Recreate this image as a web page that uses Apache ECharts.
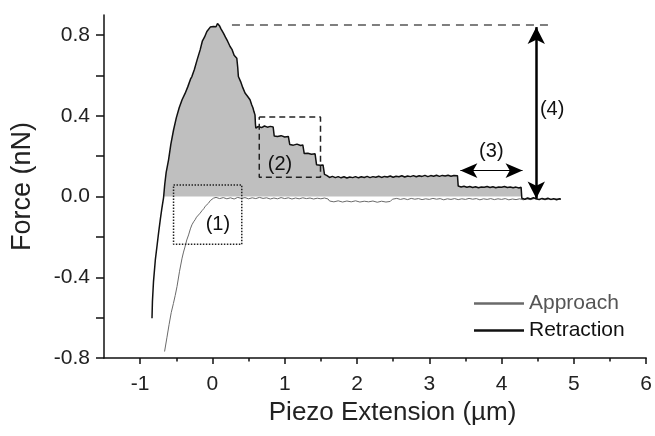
<!DOCTYPE html>
<html>
<head>
<meta charset="utf-8">
<script src="https://cdn.jsdelivr.net/npm/echarts@6/dist/echarts.min.js"></script>
<style>
html,body{margin:0;padding:0;background:#fff}
#chart{width:655px;height:436px}
</style>
</head>
<body>
<div id="chart"></div>
<script>
// force curves: [piezo extension (um), force (nN)]
var approach = [
    [-0.662,-0.768],[-0.63,-0.70],[-0.60,-0.635],[-0.57,-0.575],[-0.54,-0.53],[-0.515,-0.49],[-0.49,-0.446],
    [-0.455,-0.37],[-0.42,-0.305],[-0.40,-0.275],[-0.38,-0.25],[-0.355,-0.215],[-0.33,-0.19],[-0.305,-0.16],
    [-0.284,-0.14],[-0.26,-0.125],[-0.24,-0.115],[-0.22,-0.102],[-0.20,-0.095],[-0.17,-0.082],[-0.145,-0.07],
    [-0.12,-0.06],[-0.10,-0.048],[-0.08,-0.04],[-0.055,-0.033],[-0.03,-0.02],[-0.01,-0.012],[0.014,-0.008],
    [0.05,-0.004],[0.10,-0.010],[0.15,-0.005],[0.20,-0.011],[0.25,-0.006],[0.30,-0.012],[0.35,-0.004],
    [0.40,-0.009],[0.45,-0.005],[0.50,-0.011],[0.55,-0.006],[0.60,-0.010],[0.65,-0.004],[0.70,-0.009],
    [0.75,-0.006],[0.80,-0.012],[0.85,-0.007],[0.90,-0.011],[0.95,-0.005],[1.00,-0.010],[1.05,-0.006],
    [1.10,-0.012],[1.15,-0.007],[1.20,-0.011],[1.25,-0.006],[1.30,-0.010],[1.35,-0.007],[1.40,-0.012],
    [1.45,-0.008],[1.50,-0.011],[1.55,-0.007],[1.60,-0.012],[1.62,-0.022],[1.68,-0.026],[1.74,-0.021],
    [1.80,-0.027],[1.86,-0.022],[1.92,-0.026],[1.98,-0.021],[2.04,-0.027],[2.10,-0.023],[2.16,-0.026],
    [2.22,-0.022],[2.28,-0.028],[2.34,-0.023],[2.40,-0.027],[2.46,-0.024],[2.49,-0.013],[2.55,-0.009],
    [2.60,-0.014],[2.65,-0.010],[2.70,-0.015],[2.75,-0.009],[2.80,-0.013],[2.85,-0.010],[2.90,-0.015],
    [2.95,-0.011],[3.00,-0.014],[3.05,-0.009],[3.10,-0.013],[3.15,-0.010],[3.20,-0.016],[3.25,-0.011],
    [3.30,-0.014],[3.35,-0.010],[3.40,-0.015],[3.45,-0.011],[3.50,-0.014],[3.55,-0.009],[3.60,-0.013],
    [3.65,-0.010],[3.70,-0.016],[3.75,-0.011],[3.80,-0.014],[3.85,-0.010],[3.90,-0.015],[3.95,-0.011],
    [4.00,-0.014],[4.05,-0.010],[4.10,-0.016],[4.15,-0.012],[4.20,-0.015],[4.25,-0.011],[4.30,-0.016],
    [4.35,-0.012],[4.40,-0.015],[4.45,-0.010],[4.50,-0.014],[4.55,-0.011],[4.60,-0.016],[4.65,-0.012],
    [4.70,-0.015],[4.75,-0.011],[4.80,-0.014],[4.82,-0.012]
];
var retraction = [
    [-0.836,-0.603],[-0.83,-0.52],[-0.815,-0.42],[-0.79,-0.314],[-0.765,-0.24],[-0.745,-0.18],[-0.72,-0.11],
    [-0.70,-0.06],[-0.676,-0.005],[-0.66,0.06],[-0.64,0.12],[-0.607,0.182],[-0.575,0.26],[-0.538,0.33],
    [-0.50,0.39],[-0.46,0.44],[-0.42,0.48],[-0.38,0.51],[-0.34,0.545],[-0.30,0.585],[-0.284,0.595],
    [-0.25,0.63],[-0.21,0.68],[-0.17,0.727],[-0.14,0.77],[-0.11,0.79],[-0.077,0.818],[-0.05,0.825],
    [-0.03,0.84],[-0.01,0.835],[0.014,0.843],[0.03,0.85],[0.05,0.842],[0.07,0.858],[0.083,0.86],
    [0.10,0.845],[0.12,0.83],[0.152,0.81],[0.18,0.79],[0.21,0.77],[0.244,0.744],[0.27,0.73],[0.30,0.70],
    [0.337,0.686],[0.35,0.64],[0.359,0.595],[0.39,0.57],[0.42,0.54],[0.451,0.513],[0.48,0.50],[0.52,0.48],
    [0.543,0.455],[0.56,0.44],[0.575,0.42],[0.589,0.405],[0.595,0.36],[0.60,0.339],[0.63,0.347],
    [0.68,0.342],[0.72,0.35],[0.76,0.344],[0.80,0.348],[0.84,0.345],[0.855,0.30],[0.90,0.298],[0.95,0.302],
    [1.00,0.295],[1.05,0.298],[1.07,0.258],[1.12,0.255],[1.17,0.26],[1.22,0.253],[1.25,0.256],[1.27,0.213],
    [1.32,0.215],[1.37,0.21],[1.42,0.212],[1.44,0.158],[1.49,0.155],[1.53,0.157],[1.55,0.11],[1.58,0.105],
    [1.62,0.095],[1.66,0.100],[1.70,0.094],[1.74,0.099],[1.78,0.093],[1.82,0.098],[1.86,0.092],[1.90,0.097],
    [1.94,0.094],[1.98,0.099],[2.02,0.093],[2.06,0.098],[2.10,0.095],[2.14,0.100],[2.18,0.094],[2.22,0.099],
    [2.26,0.096],[2.30,0.101],[2.34,0.095],[2.38,0.100],[2.42,0.097],[2.46,0.102],[2.50,0.096],[2.54,0.101],
    [2.58,0.098],[2.62,0.103],[2.66,0.097],[2.70,0.102],[2.74,0.099],[2.78,0.104],[2.82,0.098],[2.86,0.103],
    [2.90,0.100],[2.94,0.105],[2.98,0.099],[3.02,0.104],[3.06,0.101],[3.10,0.106],[3.14,0.100],[3.18,0.105],
    [3.22,0.102],[3.26,0.106],[3.30,0.101],[3.34,0.105],[3.39,0.103],[3.40,0.052],[3.44,0.048],[3.48,0.051],
    [3.52,0.046],[3.56,0.050],[3.60,0.045],[3.64,0.049],[3.68,0.044],[3.72,0.048],[3.76,0.046],[3.80,0.050],
    [3.84,0.045],[3.88,0.049],[3.92,0.044],[3.96,0.048],[4.00,0.046],[4.04,0.050],[4.08,0.045],[4.12,0.048],
    [4.16,0.044],[4.20,0.047],[4.24,0.043],[4.27,0.046],[4.28,-0.008],[4.32,-0.013],[4.36,-0.007],
    [4.40,-0.012],[4.44,-0.006],[4.48,-0.011],[4.52,-0.015],[4.56,-0.009],[4.60,-0.013],[4.64,-0.008],
    [4.68,-0.014],[4.72,-0.010],[4.76,-0.016],[4.80,-0.011],[4.82,-0.013]
];
var xTicks = [-1,0,1,2,3,4,5,6];
var xMinorTicks = [-0.5,0.5,1.5,2.5,3.5,4.5,5.5];
var yTicks = [-0.8,-0.6,-0.4,-0.2,0,0.2,0.4,0.6,0.8];
var yLabels = [-0.8,-0.4,0,0.4,0.8];
var notes = ['(1)','(2)','(3)','(4)'];

var font = "'Liberation Sans', Arial, sans-serif";

// grey area under the retraction curve, above zero
var fillData = retraction.filter(function(p){ return p[0] >= -0.68 && p[0] <= 4.275; })
    .map(function(p){ return [p[0], Math.max(0, p[1])]; });

var chart = echarts.init(document.getElementById('chart'));
chart.setOption({
    animation:false,
    textStyle:{fontFamily:font},
    grid:{left:104, right:7.5, top:15, bottom:78},
    legend:{
        orient:'vertical',
        left:474,
        top:293,
        padding:0,
        itemWidth:50,
        itemHeight:2.5,
        itemGap:6,
        icon:'rect',
        textStyle:{fontSize:21, lineHeight:21, fontFamily:font},
        data:[
            {name:'Approach', textStyle:{color:'#555'}},
            {name:'Retraction', textStyle:{color:'#111'}}
        ]
    },
    xAxis:[{
        type:'value',
        min:-1.5,
        max:6,
        name:'Piezo Extension (µm)',
        nameLocation:'middle',
        nameGap:42,
        nameTextStyle:{fontSize:26, color:'#222', padding:[0,0,0,35]},
        axisLine:{onZero:false, lineStyle:{color:'#111', width:1.5}},
        axisTick:{customValues:xTicks, length:6, lineStyle:{color:'#111', width:1.5}},
        axisLabel:{customValues:xTicks, fontSize:21, color:'#222', margin:16},
        splitLine:{show:false}
    },{
        type:'value',
        min:-1.5,
        max:6,
        position:'bottom',
        axisLine:{show:false, onZero:false},
        axisTick:{customValues:xMinorTicks, length:3.5, lineStyle:{color:'#111', width:1.5}},
        axisLabel:{show:false},
        splitLine:{show:false}
    }],
    yAxis:{
        type:'value',
        min:-0.8,
        max:0.9,
        name:'Force (nN)',
        nameLocation:'middle',
        nameGap:68,
        nameTextStyle:{fontSize:27, color:'#222'},
        axisLine:{onZero:false, lineStyle:{color:'#111', width:1.5}},
        axisTick:{customValues:yTicks, length:8, lineStyle:{color:'#111', width:1.5}},
        axisLabel:{customValues:yLabels, fontSize:21, color:'#222', margin:14,
            formatter:function(v){ return v.toFixed(1); }},
        splitLine:{show:false}
    },
    series:[
        {
            name:'fill',
            type:'line',
            data:fillData,
            showSymbol:false,
            symbol:'none',
            lineStyle:{width:0},
            areaStyle:{color:'#bfbfbf', opacity:1},
            silent:true,
            z:1
        },
        {
            name:'Approach',
            type:'line',
            data:approach,
            symbol:'none',
            color:'#6a6a6a',
            lineStyle:{color:'#6a6a6a', width:1},
            z:3
        },
        {
            name:'Retraction',
            type:'line',
            data:retraction,
            symbol:'none',
            color:'#111',
            lineStyle:{color:'#111', width:1.5},
            z:4
        },
        {
            // dashed level of the maximum force, with the two arrows
            name:'peak',
            type:'line',
            data:[[0.27,0.851],[4.68,0.851]],
            symbol:'none',
            silent:true,
            lineStyle:{color:'#555', width:1.5, type:[8,6]},
            markLine:{
                silent:true,
                animation:false,
                label:{show:false},
                data:[
                    [{coord:[4.48,0.84], symbol:'arrow', symbolSize:[13,17],
                        lineStyle:{color:'#000', width:2.5, type:'solid'}},
                     {coord:[4.48,-0.01], symbol:'arrow', symbolSize:[13,17]}],
                    [{coord:[3.43,0.129], symbol:'arrow', symbolSize:[11,17],
                        lineStyle:{color:'#000', width:1, type:'solid'}},
                     {coord:[4.29,0.129], symbol:'arrow', symbolSize:[11,17]}]
                ]
            },
            z:5
        },
        {
            name:'box2',
            type:'line',
            data:[[0.648,0.394],[1.495,0.394],[1.495,0.096],[0.648,0.096],[0.648,0.394]],
            symbol:'none',
            silent:true,
            lineStyle:{color:'#222', width:1.5, type:[6,4]},
            z:5
        },
        {
            name:'box1',
            type:'line',
            data:[[-0.538,0.058],[0.406,0.058],[0.406,-0.236],[-0.538,-0.236],[-0.538,0.058]],
            symbol:'none',
            silent:true,
            lineStyle:{color:'#222', width:1.5, type:[1.5,1.5]},
            z:5
        },
        {
            name:'notes',
            type:'scatter',
            symbolSize:1,
            silent:true,
            itemStyle:{color:'#fff', opacity:0},
            label:{show:true, position:[0,0], align:'center', verticalAlign:'middle',
                formatter:'{b}', fontSize:20, color:'#111', opacity:1, fontFamily:font},
            data:[
                {name:notes[0], value:[0.083,-0.14]},
                {name:notes[1], value:[0.942,0.157]},
                {name:notes[2], value:[3.865,0.223]},
                {name:notes[3], value:[4.706,0.43]}
            ],
            z:6
        }
    ]
});
</script>
</body>
</html>
